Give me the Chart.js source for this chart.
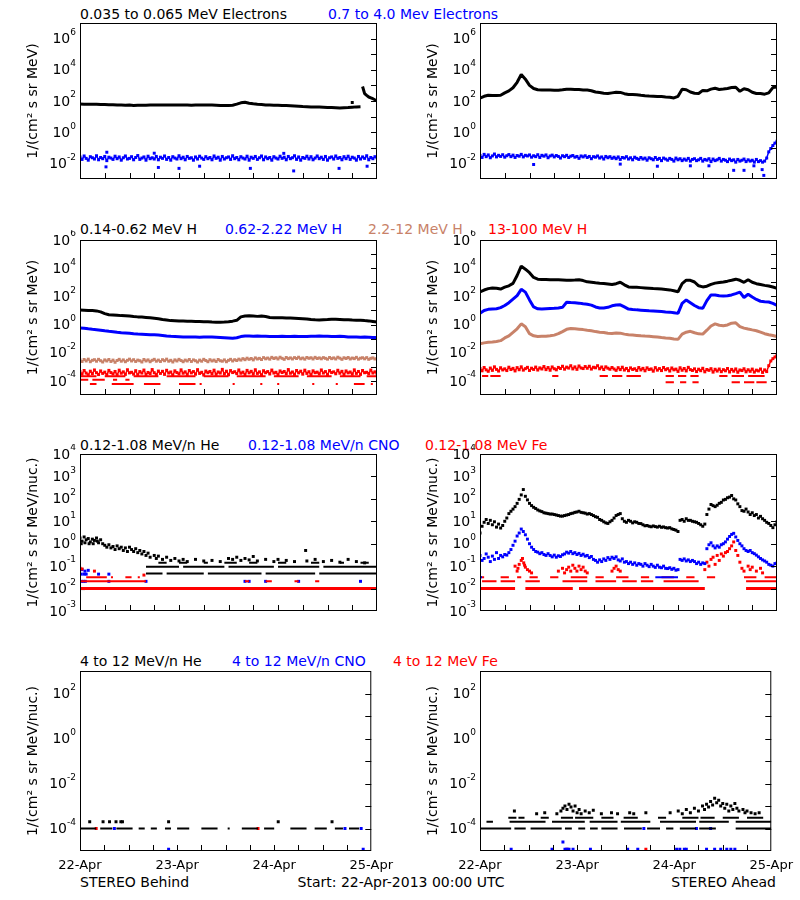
<!DOCTYPE html>
<html>
<head>
<meta charset="utf-8">
<script src="https://cdn.jsdelivr.net/npm/chart.js@4.4.0/dist/chart.umd.min.js"></script>
<style>
body { margin: 0; background: #fff; width: 800px; height: 900px; position: relative; overflow: hidden; font-family: "DejaVu Sans", sans-serif; }
canvas { position: absolute; }
.t { position: absolute; font-size: 14px; line-height: 14px; white-space: nowrap; }
</style>
</head>
<body>
<div class="t" style="left:80px;top:7px;color:#000">0.035 to 0.065 MeV Electrons</div>
<div class="t" style="left:328px;top:7px;color:#0000ff">0.7 to 4.0 Mev Electrons</div>
<div class="t" style="left:80px;top:222px;color:#000">0.14-0.62 MeV H</div>
<div class="t" style="left:225px;top:222px;color:#0000ff">0.62-2.22 MeV H</div>
<div class="t" style="left:368px;top:222px;color:rgb(200,130,105)">2.2-12 MeV H</div>
<div class="t" style="left:488px;top:222px;color:#ff0000">13-100 MeV H</div>
<div class="t" style="left:80px;top:438px;color:#000">0.12-1.08 MeV/n He</div>
<div class="t" style="left:248px;top:438px;color:#0000ff">0.12-1.08 MeV/n CNO</div>
<div class="t" style="left:425px;top:438px;color:#ff0000">0.12-1.08 MeV Fe</div>
<div class="t" style="left:80px;top:654px;color:#000">4 to 12 MeV/n He</div>
<div class="t" style="left:232px;top:654px;color:#0000ff">4 to 12 MeV/n CNO</div>
<div class="t" style="left:393px;top:654px;color:#ff0000">4 to 12 MeV Fe</div>
<div class="t" style="left:80px;top:875px">STEREO Behind</div>
<div class="t" style="left:0;width:802px;text-align:center;top:875px">Start: 22-Apr-2013 00:00 UTC</div>
<div class="t" style="right:24px;top:875px">STEREO Ahead</div>
<script>
// x axis: hours since 22-Apr-2013 00:00 UTC
const dayLabels = ['22-Apr', '23-Apr', '24-Apr', '25-Apr'];

// y tick labels (powers of ten)
const elecExps = [-2, 0, 2, 4, 6];
const protonExps = [-4, -2, 0, 2, 4, 6];
const ionLoExps = [-3, -2, -1, 0, 1, 2, 3, 4];
const ionHiExps = [-4, -2, 0, 2];

// ---- STEREO Behind, electrons ----
// hourly from 0 h
const behindElecLo = [65, 63, 63, 62, 62, 60, 59, 58, 58, 56, 55, 54, 55, 52, 54, 54, 54, 55, 56, 55,
  56, 56, 55, 55, 56, 55, 55, 54, 55, 56, 55, 56, 55, 54, 52, 51, 51, 54, 63, 76,
  83, 72, 66, 62, 59, 56, 55, 54, 54, 52, 51, 50, 48, 46, 44, 43, 42, 42, 41, 40,
  38, 38, 37, 36, 37, 38, 40, 42, 43];
// every 0.5 h from 68.5 h
const behindElecLoTail = [850, 300, 230, 180, 160, 140, 120, 105];
const behindElecLoDots = [[66, 80]];
// every 0.5 h from 0 h
const behindElecHi = [0.026, 0.018, 0.030, 0.021, 0.016, 0.027, 0.023, 0.019, 0.031, 0.017, 0.024, 0.020,
  0.028, 0.015, 0.025, 0.022, 0.018, 0.029, 0.020, 0.026, 0.016, 0.023, 0.030, 0.019,
  0.021, 0.027, 0.017, 0.024, 0.032, 0.018, 0.022, 0.026, 0.016, 0.029, 0.020, 0.023,
  0.019, 0.028, 0.017, 0.025, 0.021, 0.030, 0.018, 0.024, 0.016, 0.027, 0.022, 0.019,
  0.031, 0.020, 0.025, 0.017, 0.028, 0.021, 0.023, 0.016, 0.026, 0.019, 0.029, 0.022,
  0.018, 0.027, 0.020, 0.024, 0.017, 0.030, 0.021, 0.025, 0.016, 0.028, 0.019, 0.023,
  0.026, 0.018, 0.031, 0.020, 0.024, 0.017, 0.027, 0.022, 0.019, 0.029, 0.016, 0.025,
  0.021, 0.028, 0.018, 0.023, 0.030, 0.017, 0.026, 0.020, 0.024, 0.016, 0.027, 0.022,
  0.019, 0.029, 0.021, 0.025, 0.017, 0.028, 0.020, 0.023, 0.031, 0.018, 0.026, 0.016,
  0.024, 0.021, 0.029, 0.019, 0.027, 0.017, 0.022, 0.030, 0.020, 0.025, 0.018, 0.028,
  0.016, 0.023, 0.026, 0.019, 0.030, 0.021, 0.024, 0.017, 0.027, 0.020, 0.029, 0.018,
  0.025, 0.022, 0.016, 0.028, 0.019, 0.026, 0.021, 0.031, 0.017, 0.024, 0.020, 0.027, 0.023];
const behindElecHiDots = [[6.5, 0.052], [18, 0.045], [49.4, 0.044], [6.3, 0.006], [19, 0.0055], [24, 0.0048],
  [29, 0.0066], [41.3, 0.0048], [51.8, 0.0033], [62.8, 0.0048], [69.6, 0.0066]];

// ---- STEREO Ahead, electrons ----
// hourly
const aheadElecLo = [155, 200, 234, 229, 224, 234, 331, 447, 708, 1585, 5000, 2512, 1000, 631, 525, 501, 501, 501, 490, 490,
  525, 575, 575, 550, 537, 513, 501, 457, 380, 347, 316, 302, 331, 363, 355, 295, 263, 257, 251, 234,
  219, 209, 200, 191, 191, 182, 174, 158, 200, 562, 525, 380, 316, 302, 479, 447, 575, 661, 550, 589,
  631, 724, 759, 417, 603, 525, 363, 302, 302, 275, 331, 724, 794];
// every 0.5 h
const aheadElecHi = [0.032, 0.024, 0.038, 0.027, 0.035, 0.023, 0.030, 0.040, 0.026, 0.033, 0.028, 0.036, 0.025,
  0.031, 0.037, 0.027, 0.034, 0.024, 0.032, 0.029, 0.038, 0.026, 0.033, 0.030, 0.035, 0.025,
  0.031, 0.027, 0.036, 0.024, 0.033, 0.029, 0.035, 0.023, 0.030, 0.034, 0.026, 0.032, 0.028,
  0.022, 0.031, 0.027, 0.033, 0.024, 0.029, 0.032, 0.025, 0.028, 0.021, 0.030, 0.026, 0.031,
  0.024, 0.028, 0.020, 0.027, 0.025, 0.030, 0.022, 0.026, 0.019, 0.028, 0.023, 0.027, 0.021,
  0.025, 0.020, 0.026, 0.018, 0.024, 0.022, 0.027, 0.019, 0.023, 0.017, 0.025, 0.021, 0.018,
  0.024, 0.019, 0.022, 0.016, 0.023, 0.020, 0.017, 0.024, 0.018, 0.021, 0.015, 0.022, 0.019,
  0.016, 0.021, 0.018, 0.014, 0.022, 0.017, 0.020, 0.015, 0.019, 0.016, 0.021, 0.014, 0.018,
  0.020, 0.015, 0.017, 0.021, 0.014, 0.018, 0.016, 0.020, 0.013, 0.019, 0.015, 0.017, 0.021,
  0.014, 0.018, 0.016, 0.013, 0.019, 0.015, 0.017, 0.012, 0.018, 0.014, 0.016, 0.019, 0.013,
  0.017, 0.014, 0.016, 0.012, 0.018, 0.013, 0.015, 0.012, 0.014,
  0.022, 0.055, 0.09, 0.14, 0.2, 0.26];
const aheadElecHiDots = [[13, 0.0085], [34, 0.009], [43, 0.0066], [51, 0.007], [55.5, 0.007], [61.5, 0.0036],
  [64, 0.0036], [66.4, 0.007], [68.4, 0.004], [68.8, 0.0017]];

// ---- STEREO Behind, protons ----
// hourly
const behindH1 = [10.7, 10.5, 10, 9.8, 9.3, 7.9, 6.0, 5.0, 4.8, 4.6, 4.3, 4.2, 4.0, 3.7, 3.5, 3.4, 3.2, 3.0, 2.8, 2.6,
  2.3, 2.1, 1.9, 1.86, 1.82, 1.78, 1.74, 1.70, 1.66, 1.62, 1.58, 1.55, 1.51, 1.48, 1.48, 1.51, 1.58, 1.74, 2.0, 3.5,
  4.0, 4.2, 4.0, 3.8, 4.0, 3.7, 3.2, 3.0, 3.0, 3.0, 2.95, 2.9, 2.8, 2.7, 2.6, 2.5, 2.3, 2.2, 2.14, 2.2,
  2.24, 2.34, 2.4, 2.3, 2.2, 2.2, 2.1, 2.04, 2.0, 1.9, 1.82, 1.66, 1.51];
const behindH2 = [0.58, 0.55, 0.50, 0.46, 0.43, 0.40, 0.36, 0.33, 0.31, 0.28, 0.26, 0.25, 0.24, 0.22, 0.21, 0.205, 0.20, 0.19, 0.185, 0.18,
  0.17, 0.155, 0.145, 0.14, 0.135, 0.13, 0.13, 0.13, 0.13, 0.128, 0.13, 0.13, 0.13, 0.125, 0.12, 0.115, 0.11, 0.105, 0.115, 0.14,
  0.155, 0.155, 0.15, 0.155, 0.15, 0.145, 0.14, 0.14, 0.14, 0.145, 0.14, 0.14, 0.145, 0.14, 0.14, 0.14, 0.145, 0.15, 0.155, 0.15,
  0.145, 0.14, 0.14, 0.145, 0.14, 0.13, 0.13, 0.13, 0.125, 0.13, 0.125, 0.12, 0.12];
// every 0.5 h
const behindH3 = [0.0030, 0.0024, 0.0033, 0.0026, 0.0035, 0.0023, 0.0029, 0.0032, 0.0025, 0.0034, 0.0027, 0.0022, 0.0031,
  0.0026, 0.0033, 0.0024, 0.0030, 0.0021, 0.0028, 0.0034, 0.0025, 0.0031, 0.0023, 0.0029, 0.0035, 0.0026,
  0.0032, 0.0024, 0.0030, 0.0027, 0.0022, 0.0033, 0.0026, 0.0031, 0.0023, 0.0029, 0.0034, 0.0025, 0.0030,
  0.0024, 0.0032, 0.0027, 0.0035, 0.0025, 0.0029, 0.0022, 0.0031, 0.0026, 0.0034, 0.0028, 0.0023, 0.0030,
  0.0026, 0.0033, 0.0024, 0.0031, 0.0027, 0.0022, 0.0030, 0.0025, 0.0034, 0.0028, 0.0023, 0.0032, 0.0026,
  0.0030, 0.0024, 0.0033, 0.0027, 0.0025, 0.0031, 0.0023, 0.0029, 0.0034, 0.0026, 0.0032, 0.0028, 0.0035,
  0.0030, 0.0038, 0.0032, 0.0041, 0.0034, 0.0039, 0.0031, 0.0043, 0.0036, 0.0040, 0.0033, 0.0045, 0.0037,
  0.0042, 0.0035, 0.0047, 0.0039, 0.0044, 0.0036, 0.0048, 0.0040, 0.0034, 0.0046, 0.0038, 0.0043, 0.0036,
  0.0045, 0.0039, 0.0048, 0.0037, 0.0042, 0.0035, 0.0046, 0.0040, 0.0044, 0.0036, 0.0047, 0.0039, 0.0043,
  0.0037, 0.0045, 0.0040, 0.0035, 0.0046, 0.0038, 0.0043, 0.0036, 0.0048, 0.0041, 0.0034, 0.0044, 0.0039,
  0.0046, 0.0036, 0.0042, 0.0038, 0.0047, 0.0035, 0.0041, 0.0044, 0.0037, 0.0045, 0.0034, 0.0040, 0.0043, 0.0036, 0.0039];
const behindH4 = [4.5e-4, 3.0e-4, 5.5e-4, 3.6e-4, 2.6e-4, 4.9e-4, 3.3e-4, 6.0e-4, 3.8e-4, 2.8e-4, 5.1e-4, 3.4e-4, 4.2e-4,
  2.7e-4, 5.6e-4, 3.9e-4, 3.1e-4, 4.7e-4, 2.5e-4, 5.8e-4, 3.5e-4, 4.4e-4, 2.9e-4, 6.2e-4, 3.7e-4, 4.1e-4,
  3.0e-4, 5.3e-4, 2.6e-4, 4.6e-4, 3.6e-4, 5.9e-4, 2.8e-4, 4.0e-4, 3.3e-4, 6.4e-4, 3.8e-4, 2.7e-4, 5.0e-4,
  3.4e-4, 4.8e-4, 2.9e-4, 5.7e-4, 3.6e-4, 4.3e-4, 2.5e-4, 5.2e-4, 3.9e-4, 3.1e-4, 6.1e-4, 3.5e-4, 4.4e-4,
  2.8e-4, 5.5e-4, 3.7e-4, 4.6e-4, 3.0e-4, 6.3e-4, 3.4e-4, 4.1e-4, 2.6e-4, 5.0e-4, 3.8e-4, 4.7e-4, 3.2e-4,
  5.8e-4, 2.9e-4, 4.3e-4, 3.6e-4, 6.6e-4, 3.1e-4, 4.9e-4, 2.7e-4, 5.4e-4, 3.9e-4, 4.5e-4, 3.3e-4, 6.0e-4,
  3.5e-4, 4.2e-4, 2.8e-4, 5.6e-4, 3.7e-4, 4.8e-4, 3.0e-4, 6.2e-4, 3.4e-4, 4.4e-4, 2.6e-4, 5.3e-4, 3.8e-4,
  4.6e-4, 3.1e-4, 5.9e-4, 3.6e-4, 4.1e-4, 2.7e-4, 5.1e-4, 3.9e-4, 4.7e-4, 3.2e-4, 6.4e-4, 3.5e-4, 4.3e-4,
  2.9e-4, 5.5e-4, 3.7e-4, 4.9e-4, 3.0e-4, 5.8e-4, 3.4e-4, 4.5e-4, 2.6e-4, 5.2e-4, 3.8e-4, 4.2e-4, 3.1e-4,
  6.0e-4, 3.6e-4, 4.6e-4, 2.8e-4, 5.4e-4, 3.9e-4, 4.4e-4, 3.2e-4, 5.7e-4, 3.5e-4, 4.8e-4, 2.7e-4, 5.1e-4,
  3.7e-4, 4.3e-4, 3.0e-4, 6.1e-4, 3.4e-4, 4.7e-4, 2.9e-4, 5.5e-4, 3.8e-4, 4.1e-4, 3.3e-4, 5.9e-4, 3.6e-4, 4.4e-4, 3.1e-4];
// quantised low-count rows: [from h, to h]
const behindH4Row21 = [[0, 4], [6, 11], [13, 19], [21, 28], [30, 36], [38, 45], [47, 53], [55, 61], [63, 68], [69.5, 72]];
const behindH4Row12 = [[0, 2], [3, 6], [8, 9], [11, 12]];
const behindH4Row06 = [[2.4, 4], [7.7, 13], [15.5, 19.5], [24, 28], [29, 29.5], [37, 37.5], [43.7, 44.2], [47.8, 48.3],
  [56.3, 56.8], [62, 62.5], [66.4, 69], [70.5, 71]];

// ---- STEREO Ahead, protons ----
// hourly
const aheadH1 = [209, 282, 355, 398, 380, 331, 447, 562, 832, 3020, 14000, 8500, 4790, 2190, 1660, 1585, 1550, 1510, 1510, 1480,
  1445, 1410, 1410, 1445, 1510, 1320, 1070, 1000, 912, 851, 832, 759, 692, 794, 1000, 661, 468, 447, 437, 417,
  398, 380, 363, 347, 331, 309, 288, 251, 214, 794, 1410, 1380, 1047, 562, 468, 525, 708, 871, 955, 1047,
  1200, 1410, 1660, 1380, 1000, 1510, 1000, 794, 692, 603, 537, 457, 380];
const aheadH2 = [6.2, 10, 12, 12.6, 13.2, 15.8, 22.4, 35.5, 63, 112, 316, 200, 56, 17.8, 13.2, 12.6, 13.2, 13.8, 14.1, 15.1,
  16.6, 38, 36.3, 34.7, 33.1, 29.5, 27.5, 24, 17.8, 15.1, 15.1, 16.6, 21.4, 24, 25.1, 17.8, 12.6, 11.7, 11, 10.5,
  10, 9.5, 9.1, 8.7, 8.3, 7.9, 7.6, 6.9, 6.2, 31.6, 56, 35.5, 22.4, 15.8, 14.1, 50, 126, 126, 112, 105,
  112, 126, 158, 200, 83, 141, 89, 60, 45, 42, 40, 31.6, 23];
const aheadH3 = [0.044, 0.050, 0.055, 0.058, 0.063, 0.072, 0.112, 0.158, 0.28, 0.50, 1.12, 0.71, 0.224, 0.158, 0.141, 0.145, 0.148, 0.158, 0.178, 0.224,
  0.316, 0.457, 0.525, 0.50, 0.468, 0.437, 0.398, 0.363, 0.316, 0.288, 0.269, 0.240, 0.229, 0.251, 0.245, 0.209, 0.186, 0.178, 0.170, 0.158,
  0.151, 0.145, 0.138, 0.129, 0.120, 0.112, 0.105, 0.095, 0.089, 0.209, 0.288, 0.331, 0.263, 0.219, 0.209, 0.398, 0.79, 1.12, 0.89, 0.83,
  0.93, 1.26, 1.32, 0.72, 0.56, 0.48, 0.417, 0.363, 0.288, 0.224, 0.19, 0.166, 0.141];
// every 0.5 h
const aheadH4 = [7.5e-4, 5.2e-4, 9.0e-4, 6.1e-4, 4.8e-4, 8.2e-4, 5.6e-4, 1.0e-3, 6.6e-4, 5.0e-4, 8.6e-4, 6.0e-4, 7.2e-4,
  5.4e-4, 9.4e-4, 6.4e-4, 7.8e-4, 5.1e-4, 8.8e-4, 6.2e-4, 1.0e-3, 5.8e-4, 7.4e-4, 9.2e-4, 5.5e-4, 8.0e-4,
  6.5e-4, 9.6e-4, 5.9e-4, 8.4e-4, 7.0e-4, 1.05e-3, 6.3e-4, 8.9e-4, 5.7e-4, 9.8e-4, 7.3e-4, 6.1e-4, 9.1e-4,
  7.6e-4, 1.1e-3, 6.8e-4, 9.5e-4, 8.1e-4, 1.2e-3, 7.1e-4, 9.9e-4, 6.6e-4, 1.15e-3, 8.3e-4, 7.5e-4, 1.05e-3,
  7.9e-4, 1.1e-3, 6.9e-4, 9.3e-4, 8.5e-4, 1.2e-3, 7.2e-4, 9.7e-4, 6.4e-4, 1.0e-3, 8.0e-4, 6.7e-4, 9.0e-4,
  7.0e-4, 5.6e-4, 8.7e-4, 6.3e-4, 9.4e-4, 5.9e-4, 7.7e-4, 5.3e-4, 8.4e-4, 6.5e-4, 7.3e-4, 5.5e-4, 8.9e-4,
  6.0e-4, 7.8e-4, 5.2e-4, 8.5e-4, 6.4e-4, 7.1e-4, 4.9e-4, 8.8e-4, 5.8e-4, 7.5e-4, 5.4e-4, 9.0e-4, 6.2e-4,
  7.4e-4, 5.0e-4, 8.3e-4, 6.1e-4, 6.9e-4, 4.7e-4, 8.6e-4, 5.7e-4, 7.6e-4, 5.1e-4, 9.2e-4, 6.3e-4, 5.5e-4,
  7.2e-4, 4.6e-4, 6.8e-4, 5.3e-4, 7.9e-4, 4.4e-4, 6.5e-4, 5.6e-4, 7.4e-4, 4.2e-4, 6.7e-4, 5.0e-4, 7.0e-4,
  4.5e-4, 6.3e-4, 5.2e-4, 7.6e-4, 4.3e-4, 6.6e-4, 4.9e-4, 7.1e-4, 4.1e-4, 6.0e-4, 5.4e-4, 7.3e-4, 4.4e-4,
  6.2e-4, 4.8e-4, 6.9e-4, 4.2e-4, 5.8e-4, 5.1e-4, 7.0e-4, 4.0e-4, 6.1e-4, 4.6e-4, 1.2e-3, 2.6e-3, 3.8e-3, 5.0e-3, 6.6e-3];
const aheadH4Row22 = [[0.5, 2], [2.5, 5], [17.5, 19], [29, 31], [32, 34.5], [35.5, 39], [45, 47], [48, 50], [51, 53],
  [58, 60], [61, 64], [65, 69]];
const aheadH4Row08 = [[45, 47], [48.5, 50], [51.5, 53], [61, 63], [64, 66.5], [67, 69.5]];

// ---- STEREO Behind, 0.12-1.08 MeV/n ions ----
const behindHeLoDots = [[0, 1.8], [0.5, 1.3], [1, 2.0], [1.5, 1.5], [2, 1.7], [2.5, 1.2], [3, 1.6], [3.5, 1.4], [4, 1.8],
  [4.5, 1.1], [5, 1.5], [0.3, 1.0], [1.2, 1.1], [2.2, 1.0], [3.2, 1.0], [4.2, 1.3], [5.5, 1.0], [6, 0.85], [6.5, 0.7],
  [7, 0.9], [7.5, 0.65], [8, 0.75], [8.5, 0.55], [9, 0.8], [9.5, 0.6], [10, 0.7], [10.5, 0.5], [11, 0.65], [11.5, 0.45],
  [12, 0.7], [12.5, 0.55], [13, 0.45], [13.5, 0.6], [14, 0.4], [14.5, 0.5], [15, 0.35], [15.5, 0.45], [16, 0.3],
  [16.5, 0.38], [17, 0.25], [18, 0.3], [18.5, 0.22], [19, 0.28], [20, 0.2], [21, 0.25], [22, 0.18], [23, 0.22],
  [24, 0.17], [25, 0.2], [26, 0.16], [28, 0.2], [30, 0.17], [32, 0.18], [34, 0.16], [36, 0.22], [37, 0.2], [38, 0.25],
  [39, 0.18], [40, 0.22], [41, 0.19], [42, 0.27], [43, 0.17], [45, 0.2], [47, 0.16], [48, 0.2], [50, 0.18], [52, 0.16],
  [54.7, 0.5], [55, 0.17], [57, 0.2], [59, 0.16], [61, 0.18], [63, 0.15], [65, 0.2], [67, 0.16], [69, 0.14]];
const behindHeLoRow14 = [[19, 21], [24, 26], [30, 31], [35, 38], [41, 43], [48, 50], [56, 58], [63, 64], [68, 70]];
const behindHeLoRow09 = [[16, 24], [25, 35], [36, 47], [48, 58], [59, 72]];
const behindHeLoRow05 = [[16, 20], [21, 30], [31, 44], [45, 57], [58, 72]];
const behindHeLoRow01 = [[0.3, 1.3]];
const behindCnoLoDots = [[0.5, 0.07], [1.2, 0.06], [2, 0.065], [0.3, 0.044], [1, 0.044], [1.5, 0.044], [4.5, 0.044],
  [7, 0.044], [0.3, 0.021], [0.8, 0.021], [1.3, 0.021], [7, 0.021], [16, 0.021], [40, 0.021], [41, 0.021], [45, 0.021],
  [53, 0.021], [68, 0.021]];
const behindCnoLoRow01 = [[0, 1.2], [12, 13], [18, 19], [22, 22.5], [27, 28], [33, 33.5], [38, 40], [44, 45], [50, 51],
  [55, 57], [61, 62], [66, 67], [69, 72]];
const behindFeLoDots = [[0, 0.08], [0.5, 0.075], [3.5, 0.06], [15.5, 0.04]];
const behindFeLoRow03 = [[1.5, 6.5], [7.5, 8], [11, 12.5], [14, 14.5]];
const behindFeLoRow02 = [[0, 16], [40, 41], [45, 46.5], [52, 53], [57, 58]];
const behindFeLoRow01 = [[0, 72]];

// ---- STEREO Ahead, 0.12-1.08 MeV/n ions ----
// every 0.5 h
const aheadHeLo = [3.0, 6.0, 9.0, 12, 8.0, 11, 7.0, 9.5, 5.5, 7.5, 5.0, 6.5, 10,
  14, 22, 28, 35, 45, 63, 95, 150, 260, 130, 90, 63, 50,
  42, 37, 32, 29, 27, 24, 23, 22, 21, 21, 20, 19, 18,
  17, 17, 18, 19, 20, 22, 23, 25, 26, 28, 25, 24, 23,
  21, 22, 20, 18, 16, 15, 12, 11, 9.5, 8.5, 8.0, 9.5, 11,
  14, 18, 20, 22, 13, 10, 9.0, 11, 10, 8.5, 9.5, 9.0, 8.0,
  7.9, 7.0, 6.3, 6.5, 6.0, 5.7, 6.2, 5.8, 5.5, 6.0, 5.4, 5.6, 5.2,
  5.0, 5.2, 4.6, 4.3, 4.0, 3.5, 11, 12, 10, 13, 11, 11, 10,
  9.5, 9.0, 8.0, 7.0, 6.0, 7.5, 20, 35, 56, 50, 45, 52, 63,
  70, 89, 95, 112, 120, 141, 100, 89, 60, 45, 30, 28, 35,
  26, 20, 24, 18, 20, 14, 16.6, 13, 11, 9, 8, 6.5, 5.2, 7, 9.5];
const aheadCnoLo = [0.30, 0.18, 0.22, 0.35, 0.25, 0.16, 0.28, 0.20, 0.40, 0.22, 0.30, 0.26, 0.33,
  0.31, 0.40, 0.55, 0.85, 1.3, 2.2, 3.0, 4.5, 3.5, 2.5, 1.6, 1.0, 0.7,
  0.55, 0.45, 0.42, 0.36, 0.40, 0.33, 0.30, 0.36, 0.30, 0.26, 0.31, 0.25, 0.29,
  0.27, 0.32, 0.35, 0.42, 0.38, 0.45, 0.36, 0.40, 0.33, 0.37, 0.30, 0.34, 0.28,
  0.30, 0.24, 0.27, 0.20, 0.18, 0.15, 0.19, 0.16, 0.21, 0.18, 0.24, 0.20, 0.25,
  0.22, 0.26, 0.19, 0.17, 0.21, 0.15, 0.16, 0.13, 0.15, 0.12, 0.14, 0.11, 0.13,
  0.12, 0.10, 0.13, 0.11, 0.095, 0.12, 0.10, 0.088, 0.11, 0.09, 0.085, 0.10, 0.08,
  0.078, 0.085, 0.072, 0.08, 0.066, 0.07, 0.2, 0.18, 0.21, 0.17, 0.19, 0.16, 0.18,
  0.16, 0.13, 0.15, 0.12, 0.14, 0.13, 0.60, 0.90, 1.1, 0.8, 0.65, 0.8, 0.7,
  0.9, 1.0, 1.2, 1.6, 2.1, 2.6, 2.9, 2.0, 1.4, 1.0, 0.8, 0.6, 0.5,
  0.45, 0.5, 0.4, 0.36, 0.31, 0.26, 0.22, 0.19, 0.17, 0.15, 0.12, 0.11, 0.10, 0.13, 0.14];
const aheadCnoLoRow03 = [[0, 0.5], [42.5, 48]];
const aheadFeLoDots = [[8.5, 0.1], [9, 0.06], [9.5, 0.12], [10, 0.18], [10.3, 0.22], [10.6, 0.14], [11, 0.09], [11.5, 0.07],
  [12, 0.06], [12.5, 0.05], [9.2, 0.08], [10.8, 0.11], [19, 0.06], [20, 0.08], [20.5, 0.05], [21, 0.07], [21.5, 0.09],
  [22, 0.06], [22.5, 0.11], [23, 0.08], [23.5, 0.06], [24, 0.1], [24.5, 0.07], [25, 0.09], [25.5, 0.06], [26, 0.05],
  [32, 0.06], [32.5, 0.08], [33, 0.1], [33.5, 0.07], [34, 0.06], [54.5, 0.07], [55, 0.15], [55.5, 0.1], [56, 0.2],
  [56.5, 0.25], [57, 0.12], [57.5, 0.3], [58, 0.18], [58.5, 0.35], [59, 0.28], [59.5, 0.4], [60, 0.45], [60.5, 0.6],
  [61, 0.8], [61.5, 1.2], [62, 0.5], [62.5, 0.3], [63, 0.15], [63.5, 0.08], [64, 0.06], [65, 0.1], [65.5, 0.07],
  [66, 0.09], [67, 0.06], [68, 0.08], [68.5, 0.05]];
const aheadFeLoRow03 = [[0, 1], [5, 7], [9, 10], [12, 14], [17, 19], [22, 26], [28, 30], [33, 36], [39, 41], [44, 47],
  [50, 52], [55, 57], [64, 67], [69, 72]];
const aheadFeLoRow02 = [[0.5, 4], [5, 8.5], [11, 14.5], [20, 26], [28, 33], [34.5, 38], [39, 42], [44.5, 53], [64.5, 72]];
const aheadFeLoRow01 = [[0, 8.5], [11, 22.5], [24, 54.5], [64.5, 72]];

// ---- STEREO Behind, 4-12 MeV/n ions ----
const behindHeHiRow = [[0, 4], [5, 8], [9, 13], [14.5, 16], [17.5, 19], [21, 22.5], [24, 27], [30, 34], [36.5, 37],
  [40, 44], [45.5, 48], [52, 56], [58, 61], [63, 65], [66.5, 69]];
const behindHeHiDots = [[2.4, 2e-4], [5.7, 2e-4], [7.3, 2e-4], [8.9, 2e-4], [10.1, 2e-4], [10.5, 2e-4], [21.9, 2e-4],
  [49, 2e-4], [62.3, 2e-4]];
const behindCnoHiDots = [[8.5, 1e-4], [65.5, 1e-4], [69.5, 1e-4], [21.9, 1.2e-5], [70, 1.2e-5]];
const behindFeHiDots = [[4, 1e-4], [44, 1e-4]];

// ---- STEREO Ahead, 4-12 MeV/n ions ----
const aheadHeHiRow1 = [[0, 7.7], [8.5, 11.3], [12.5, 20.2], [21, 22.7], [24.3, 26], [27.2, 29.1], [30, 34], [35.6, 40],
  [41.3, 44.5], [46, 47.8], [49.4, 53.4], [54.2, 58.3], [63.2, 72]];
const aheadHeHiRow2 = [[1.6, 3.2], [7.3, 16.2], [17.8, 25.9], [27.1, 34], [34.8, 42.1], [44.5, 53.4], [54.2, 61.5], [63.2, 72]];
const aheadHeHiRow3 = [[7, 9], [9.5, 11], [15, 17], [20, 23], [23.5, 28], [30, 33], [35.5, 39], [44, 46], [50, 54],
  [54.5, 58], [60, 64], [66, 70]];
const aheadHeHiDots = [[8.5, 6e-4], [14, 4.5e-4], [16, 5e-4], [19, 4.5e-4], [20, 6e-4], [20.5, 8e-4], [21, 1.0e-3],
  [21.5, 7e-4], [22, 1.2e-3], [22.5, 9e-4], [23, 6e-4], [23.5, 1.0e-3], [24, 5e-4], [24.5, 7e-4], [25, 4.5e-4],
  [26, 6e-4], [27, 5e-4], [28, 6.5e-4], [30, 4.5e-4], [32.5, 5e-4], [34, 4.5e-4], [37, 5e-4], [38, 4.5e-4], [41, 5e-4],
  [47, 5e-4], [49, 6e-4], [50, 4.5e-4], [51, 7e-4], [52, 5e-4], [53, 8e-4], [54, 6e-4], [55, 1.0e-3], [55.5, 7e-4],
  [56, 1.2e-3], [56.5, 9e-4], [57, 1.6e-3], [57.5, 1.1e-3], [58, 2.2e-3], [58.5, 1.4e-3], [59, 1.8e-3], [59.5, 1.0e-3],
  [60, 1.3e-3], [60.5, 8e-4], [61, 1.2e-3], [61.5, 6e-4], [62, 1.0e-3], [62.5, 7e-4], [63, 1.3e-3], [63.5, 8e-4],
  [64, 6e-4], [65, 7e-4], [65.5, 5e-4], [66, 6e-4], [67, 5e-4], [68, 4.5e-4], [69, 5e-4]];
const aheadCnoHiDots = [[7.7, 1.2e-5], [17.8, 1.2e-5], [20.5, 2.5e-5], [21, 1.2e-5], [21.5, 1.2e-5], [22, 1.2e-5],
  [23, 1.2e-5], [27.3, 1.2e-5], [36.5, 1.2e-5], [39, 1.2e-5], [48.6, 1.2e-5], [49.4, 1.2e-5], [50.5, 1.2e-5],
  [51, 1.2e-5], [56, 1.2e-5], [58, 1.2e-5], [59.5, 1.2e-5], [61, 1.2e-5], [62, 1.2e-5], [63, 1.2e-5],
  [40.5, 1e-4], [53.5, 1e-4], [57, 1e-4]];
const aheadFeHiDots = [[21.5, 1.2e-5], [41, 1.2e-5]];

const BLACK = '#000000', BLUE = '#0000ff', RED = '#ff0000', BROWN = 'rgb(200,130,105)';
const FONT = '"DejaVu Sans", sans-serif';

function line(values, start, step, color, width) {
  return {
    data: values.map((v, i) => ({ x: start + i * step, y: v })),
    borderColor: color, backgroundColor: color, borderWidth: width,
    pointRadius: 0, showLine: true, borderJoinStyle: 'bevel'
  };
}
// noisy count-rate band: thin line plus square markers
function band(values, start, step, color) {
  const ds = line(values, start, step, color, 1.5);
  ds.pointRadius = 2.1;
  ds.pointStyle = 'rect';
  ds.pointBorderWidth = 0;
  return ds;
}
function dots(pairs, color) {
  return {
    data: pairs.map(p => ({ x: p[0], y: p[1] })),
    borderColor: color, backgroundColor: color, pointStyle: 'rect',
    pointRadius: 2.1, pointBorderWidth: 0, showLine: false
  };
}
function dotsEvery(values, start, step, color) {
  return dots(values.map((v, i) => [start + i * step, v]), color);
}
function rows(segs, level, color, width) {
  const data = [];
  segs.forEach(s => data.push({ x: s[0], y: level }, { x: s[1], y: level }, { x: s[1], y: null }));
  return { data, borderColor: color, borderWidth: width || 2, pointRadius: 0, showLine: true, spanGaps: false };
}

const fluxTitle = '1/(cm\u00b2 s sr MeV)';
const nucTitle = '1/(cm\u00b2 s sr MeV/nuc.)';

const panels = [
  { col: 0, row: 0, lo: -3, hi: 7, exps: elecExps, title: fluxTitle, sets: [
    line(behindElecLo, 0, 1, BLACK, 3), line(behindElecLoTail, 68.5, 0.5, BLACK, 3), dots(behindElecLoDots, BLACK),
    band(behindElecHi, 0, 0.5, BLUE), dots(behindElecHiDots, BLUE)] },
  { col: 1, row: 0, lo: -3, hi: 7, exps: elecExps, title: fluxTitle, sets: [
    line(aheadElecLo, 0, 1, BLACK, 3),
    band(aheadElecHi, 0, 0.5, BLUE), dots(aheadElecHiDots, BLUE)] },
  { col: 0, row: 1, lo: -5, hi: 6, exps: protonExps, title: fluxTitle, sets: [
    line(behindH1, 0, 1, BLACK, 3), line(behindH2, 0, 1, BLUE, 3), band(behindH3, 0, 0.5, BROWN),
    band(behindH4, 0, 0.5, RED), rows(behindH4Row21, 2.1e-4, RED), rows(behindH4Row12, 1.2e-4, RED),
    rows(behindH4Row06, 6e-5, RED)] },
  { col: 1, row: 1, lo: -5, hi: 6, exps: protonExps, title: fluxTitle, sets: [
    line(aheadH1, 0, 1, BLACK, 3), line(aheadH2, 0, 1, BLUE, 3), line(aheadH3, 0, 1, BROWN, 3),
    band(aheadH4, 0, 0.5, RED), rows(aheadH4Row22, 2.2e-4, RED), rows(aheadH4Row08, 8e-5, RED)] },
  { col: 0, row: 2, lo: -3, hi: 4, exps: ionLoExps, title: nucTitle, sets: [
    rows(behindFeLoRow01, 0.01, RED, 3), rows(behindFeLoRow02, 0.021, RED), rows(behindFeLoRow03, 0.032, RED),
    dots(behindFeLoDots, RED),
    rows(behindCnoLoRow01, 0.01, BLUE, 3), dots(behindCnoLoDots, BLUE),
    rows(behindHeLoRow14, 0.14, BLACK), rows(behindHeLoRow09, 0.093, BLACK), rows(behindHeLoRow05, 0.047, BLACK),
    rows(behindHeLoRow01, 0.01, BLACK, 3), dots(behindHeLoDots, BLACK)] },
  { col: 1, row: 2, lo: -3, hi: 4, exps: ionLoExps, title: nucTitle, sets: [
    dotsEvery(aheadHeLo, 0, 0.5, BLACK),
    rows(aheadCnoLoRow03, 0.032, BLUE), dotsEvery(aheadCnoLo, 0, 0.5, BLUE),
    rows(aheadFeLoRow01, 0.01, RED, 3), rows(aheadFeLoRow02, 0.021, RED), rows(aheadFeLoRow03, 0.032, RED),
    dots(aheadFeLoDots, RED)] },
  { col: 0, row: 3, lo: -5, hi: 3, exps: ionHiExps, title: nucTitle, sets: [
    rows(behindHeHiRow, 1e-4, BLACK), dots(behindHeHiDots, BLACK),
    dots(behindCnoHiDots, BLUE), dots(behindFeHiDots, RED)] },
  { col: 1, row: 3, lo: -5, hi: 3, exps: ionHiExps, title: nucTitle, sets: [
    rows(aheadHeHiRow1, 1e-4, BLACK), rows(aheadHeHiRow2, 2e-4, BLACK), rows(aheadHeHiRow3, 3e-4, BLACK),
    dots(aheadHeHiDots, BLACK), dots(aheadCnoHiDots, BLUE), dots(aheadFeHiDots, RED)] }
];

// box, inward ticks, power-of-ten labels and the rotated y title
const frame = {
  id: 'frame',
  afterDraw(chart, args, o) {
    const { ctx, chartArea: a, scales: { x, y } } = chart;
    ctx.save();
    ctx.strokeStyle = '#000';
    ctx.lineWidth = 1;
    ctx.strokeRect(a.left + 0.5, a.top + 0.5, a.width - 1, a.height - 1);
    ctx.beginPath();
    for (let h = 6; h < 72; h += 6) {
      const px = Math.round(x.getPixelForValue(h)) + 0.5;
      ctx.moveTo(px, a.bottom);
      ctx.lineTo(px, a.bottom - 6);
    }
    for (let e = o.lo + 1; e < o.hi; e++) {
      const py = Math.round(y.getPixelForValue(Math.pow(10, e))) + 0.5;
      ctx.moveTo(a.right, py);
      ctx.lineTo(a.right - 6, py);
    }
    ctx.stroke();
    ctx.fillStyle = '#000';
    ctx.textBaseline = 'middle';
    ctx.textAlign = 'left';
    o.exps.forEach(e => {
      const py = y.getPixelForValue(Math.pow(10, e));
      const es = String(e);
      ctx.font = '14px ' + FONT;
      const wb = ctx.measureText('10').width;
      ctx.font = '9px ' + FONT;
      const we = ctx.measureText(es).width;
      const x0 = a.left - 4 - wb - we;
      ctx.font = '14px ' + FONT;
      ctx.fillText('10', x0, py + 1);
      ctx.font = '9px ' + FONT;
      ctx.fillText(es, x0 + wb, py - 6);
    });
    ctx.translate(a.left - 47, (a.top + a.bottom) / 2);
    ctx.rotate(-Math.PI / 2);
    ctx.textAlign = 'center';
    ctx.font = '14px ' + FONT;
    ctx.fillText(o.title, 0, 0);
    ctx.restore();
  }
};

const rowBoxes = [{ top: 23, h: 180 }, { top: 240, h: 179 }, { top: 454, h: 181 }, { top: 671, h: 180 }];

panels.forEach(p => {
  const g = rowBoxes[p.row];
  const last = p.row === 3;
  const cv = document.createElement('canvas');
  cv.width = 400;
  cv.height = g.h + 10 + (last ? 24 : 10);
  cv.style.left = (p.col * 400) + 'px';
  cv.style.top = (g.top - 10) + 'px';
  document.body.appendChild(cv);
  new Chart(cv, {
    type: 'line',
    data: { datasets: p.sets },
    options: {
      responsive: false,
      animation: false,
      events: [],
      layout: { padding: { left: 80, right: 23, top: 10, bottom: last ? 0 : 10 } },
      plugins: {
        legend: { display: false },
        tooltip: { enabled: false },
        frame: { lo: p.lo, hi: p.hi, exps: p.exps, title: p.title }
      },
      scales: {
        x: {
          type: 'linear', min: 0, max: 72, display: last,
          grid: { display: false, drawTicks: false },
          border: { display: false },
          ticks: {
            stepSize: 24, autoSkip: false, maxRotation: 0, padding: 7, color: '#000',
            font: { family: FONT, size: 13 },
            callback: v => dayLabels[v / 24]
          },
          afterFit: s => { s.height = 24; }
        },
        y: { type: 'logarithmic', min: Math.pow(10, p.lo), max: Math.pow(10, p.hi), display: false }
      }
    },
    plugins: [frame]
  });
});
</script>
</body>
</html>
